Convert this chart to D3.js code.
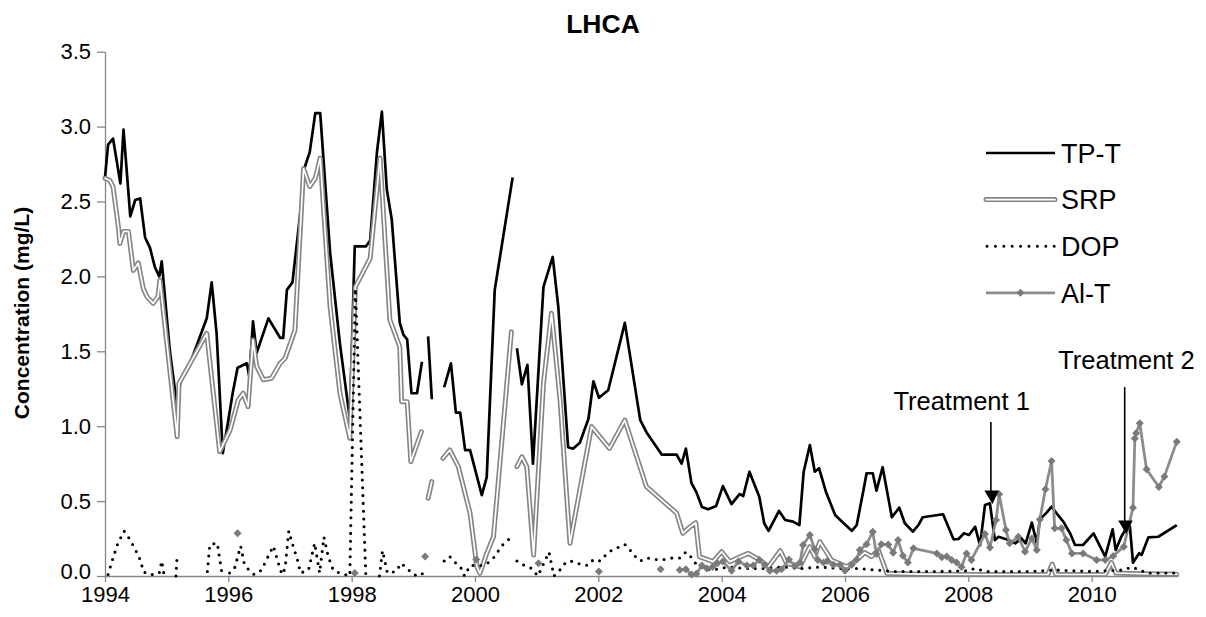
<!DOCTYPE html>
<html>
<head>
<meta charset="utf-8">
<script src="https://cdn.jsdelivr.net/npm/d3@7"></script>
<style>
  body { margin: 0; background: #fff; }
  svg { display: block; }
  text { font-family: "Liberation Sans", Arial, sans-serif; fill: #000; }
</style>
</head>
<body>
<svg id="chart" width="1206" height="617"></svg>
<script>
// ---- data: [decimal year, mg/L]; null breaks the line ----
const tpT = [
  [1994.00,2.66],[1994.05,2.88],[1994.13,2.92],[1994.25,2.62],[1994.30,2.98],[1994.41,2.40],
  [1994.49,2.51],[1994.57,2.52],[1994.65,2.26],[1994.73,2.19],[1994.81,2.06],[1994.88,2.00],
  [1994.92,2.10],[1995.05,1.51],[1995.17,1.13],[1995.22,1.29],[1995.38,1.42],[1995.65,1.72],
  [1995.73,1.96],[1995.81,1.62],[1995.91,0.82],[1996.00,1.04],[1996.07,1.22],[1996.15,1.39],
  [1996.30,1.42],[1996.34,1.33],[1996.40,1.70],[1996.46,1.49],[1996.65,1.72],[1996.84,1.59],
  [1996.89,1.59],[1996.95,1.91],[1997.04,1.96],[1997.19,2.51],[1997.24,2.73],[1997.32,2.83],
  [1997.41,3.09],[1997.49,3.09],[1997.65,2.16],[1997.81,1.55],[1997.97,1.05],[1998.05,2.20],
  [1998.23,2.20],[1998.30,2.24],[1998.41,2.83],[1998.49,3.10],[1998.57,2.58],[1998.65,2.38],
  [1998.78,1.69],[1998.84,1.61],[1998.90,1.58],[1998.97,1.22],[1999.06,1.22],[1999.14,1.43],
  [1999.19,null],[1999.24,1.60],[1999.30,1.18],[1999.40,null],
  [1999.50,1.26],[1999.61,1.42],[1999.69,1.09],[1999.76,1.09],[1999.84,0.84],[1999.92,0.84],
  [2000.11,0.54],[2000.19,0.66],[2000.32,1.91],[2000.61,2.66],[2000.65,null],
  [2000.68,1.52],[2000.76,1.28],[2000.85,1.41],[2000.94,0.75],[2001.11,1.93],[2001.26,2.13],
  [2001.35,1.80],[2001.51,0.86],[2001.59,0.85],[2001.70,0.89],[2001.84,1.05],[2001.92,1.30],
  [2002.01,1.19],[2002.16,1.24],[2002.43,1.69],[2002.68,1.04],[2002.78,0.96],[2003.03,0.81],
  [2003.27,0.81],[2003.35,0.75],[2003.42,0.85],[2003.51,0.62],[2003.59,0.56],[2003.68,0.46],
  [2003.78,0.445],[2003.91,0.467],[2004.02,0.60],[2004.16,0.48],[2004.29,0.547],[2004.35,0.534],
  [2004.45,0.696],[2004.61,0.529],[2004.69,0.352],[2004.76,0.302],[2004.93,0.434],[2005.03,0.374],
  [2005.16,0.363],[2005.26,0.34],[2005.33,0.696],[2005.43,0.874],[2005.51,0.696],[2005.58,0.719],
  [2005.69,0.563],[2005.84,0.407],[2005.97,0.356],[2006.11,0.302],[2006.19,0.34],[2006.30,0.574],
  [2006.35,0.686],[2006.45,0.686],[2006.51,0.57],[2006.61,0.726],[2006.76,0.392],[2006.88,0.456],
  [2006.97,0.352],[2007.10,0.296],[2007.19,0.34],[2007.26,0.392],[2007.59,0.412],[2007.76,0.245],
  [2007.84,0.247],[2007.93,0.285],[2008.01,0.274],[2008.11,0.329],[2008.19,0.205],[2008.27,0.474],
  [2008.35,0.485],[2008.43,0.24],[2008.49,0.262],[2008.65,0.24],[2008.76,0.218],[2008.86,0.251],
  [2008.93,0.218],[2009.03,0.356],[2009.11,0.218],[2009.16,0.378],[2009.27,0.423],[2009.35,0.463],
  [2009.43,0.419],[2009.54,0.363],[2009.65,0.285],[2009.73,0.207],[2009.86,0.207],[2010.03,0.285],
  [2010.22,0.129],[2010.34,0.312],[2010.39,0.174],[2010.48,0.262],[2010.56,0.318],[2010.62,0.329],
  [2010.67,0.089],[2010.77,0.152],[2010.81,0.14],[2010.92,0.258],[2011.08,0.262],[2011.38,0.34]
];

const srp = [
  [1994.00,2.655],[1994.08,2.64],[1994.13,2.60],[1994.22,2.32],[1994.24,2.22],[1994.30,2.30],
  [1994.38,2.30],[1994.46,2.04],[1994.54,2.09],[1994.62,1.92],[1994.68,1.865],[1994.78,1.82],
  [1994.86,1.865],[1994.89,1.976],[1995.17,0.93],[1995.20,1.286],[1995.65,1.62],[1995.86,0.83],
  [1996.03,0.975],[1996.16,1.175],[1996.24,1.22],[1996.32,1.13],[1996.40,1.575],[1996.46,1.40],
  [1996.57,1.31],[1996.70,1.32],[1996.84,1.42],[1996.92,1.453],[1997.08,1.64],[1997.22,2.72],
  [1997.32,2.60],[1997.41,2.655],[1997.49,2.79],[1997.65,1.80],[1997.81,1.22],[1997.97,0.92],
  [1998.06,1.93],[1998.30,2.12],[1998.46,2.79],[1998.62,1.71],[1998.78,1.53],[1998.81,1.164],
  [1998.90,1.164],[1998.96,0.763],[1999.13,0.963],[1999.19,null],[1999.24,0.52],[1999.30,0.63],
  [1999.40,null],[1999.48,0.786],[1999.59,0.841],[1999.73,0.73],[1999.92,0.419],[2000.03,0.062],
  [2000.08,0.018],[2000.19,0.151],[2000.30,0.262],[2000.59,1.63],[2000.65,null],[2000.68,0.73],
  [2000.76,0.796],[2000.84,0.73],[2000.95,0.14],[2001.11,1.286],[2001.24,1.754],[2001.38,1.175],
  [2001.54,0.218],[2001.89,0.997],[2002.18,0.852],[2002.43,1.04],[2002.78,0.596],[2003.27,0.419],
  [2003.37,0.285],[2003.49,0.329],[2003.58,0.356],[2003.64,0.129],[2003.86,0.096],[2004.00,0.162],
  [2004.13,0.096],[2004.43,0.151],[2004.62,0.107],[2004.76,0.062],[2004.95,0.169],[2005.05,0.085],
  [2005.27,0.062],[2005.43,0.196],[2005.51,0.129],[2005.59,0.229],[2005.78,0.107],[2006.03,0.062],
  [2006.19,0.107],[2006.32,0.156],[2006.43,0.13],[2006.54,0.174],[2006.68,0.018],[2007.22,0.012],
  [2008.19,0.01],[2009.29,0.01],[2009.36,0.08],[2009.42,0.01],[2010.22,0.01],[2010.32,0.09],
  [2010.39,0.02],[2010.78,0.015],[2011.38,0.012]
];

const dop = [
  [1994.05,0.01],[1994.13,0.12],[1994.21,0.22],[1994.31,0.30],[1994.41,0.24],[1994.50,0.17],
  [1994.58,0.10],[1994.62,0.03],[1994.70,0.01],[1994.78,0.01],[1994.88,0.02],[1994.92,0.10],
  [1994.96,0.0],[1995.05,null],[1995.15,0.0],[1995.17,0.14],[1995.30,null],
  [1995.66,0.03],[1995.70,0.21],[1995.82,0.22],[1995.90,0.01],[1995.95,null],
  [1996.02,0.02],[1996.10,0.05],[1996.20,0.20],[1996.26,0.08],[1996.35,0.03],[1996.42,0.01],
  [1996.54,0.04],[1996.62,0.11],[1996.73,0.20],[1996.80,0.10],[1996.87,0.01],[1996.92,0.05],
  [1996.98,0.30],[1997.05,0.20],[1997.12,0.11],[1997.17,0.02],[1997.30,0.04],[1997.40,0.22],
  [1997.48,0.02],[1997.55,0.26],[1997.62,0.13],[1997.70,0.04],[1997.80,0.02],[1997.97,0.0],
  [1998.06,1.92],[1998.23,0.0],[1998.35,null],[1998.45,0.0],[1998.50,0.17],[1998.58,0.02],
  [1998.72,0.03],[1998.80,0.085],[1998.90,0.05],[1999.00,0.01],[1999.10,0.0],[1999.24,0.045],
  [1999.40,null],[1999.50,0.10],[1999.59,0.13],[1999.68,0.09],[1999.78,0.05],[1999.83,0.0],
  [1999.92,0.07],[2000.10,0.07],[2000.22,0.09],[2000.32,0.13],[2000.43,0.20],[2000.59,0.26],
  [2000.65,null],[2000.68,0.10],[2000.80,0.07],[2000.92,0.05],[2001.02,0.0],[2001.20,0.16],
  [2001.28,0.0],[2001.40,0.05],[2001.47,0.09],[2001.55,0.10],[2001.70,0.08],[2001.83,0.07],
  [2001.92,0.11],[2002.03,0.10],[2002.12,0.14],[2002.21,0.17],[2002.32,0.19],[2002.43,0.21],
  [2002.52,0.17],[2002.60,0.13],[2002.68,0.10],[2002.79,0.12],[2002.93,0.11],[2003.06,0.11],
  [2003.20,0.12],[2003.32,0.12],[2003.42,0.16],[2003.52,0.12],[2003.60,0.07],[2003.70,0.05],
  [2003.85,0.04],[2004.10,0.06],[2004.40,0.05],[2004.70,0.05],[2005.00,0.06],[2005.30,0.05],
  [2005.60,0.06],[2005.90,0.05],[2006.20,0.05],[2006.50,0.04],[2006.80,0.03],[2007.50,0.03],
  [2008.00,0.035],[2008.10,0.05],[2008.30,0.03],[2009.00,0.03],[2009.40,0.04],[2010.00,0.03],
  [2010.50,0.04],[2010.65,0.06],[2010.78,0.04],[2010.90,0.02],[2011.38,0.02]
];

const alT = [
  [1996.15,0.285],[1996.20,null],[1998.05,0.02],[1998.10,null],[1999.19,0.13],[1999.25,null],
  [2000.02,0.11],[2000.10,null],[2001.03,0.085],[2001.10,null],[2002.01,0.03],[2002.10,null],
  [2003.01,0.045],[2003.10,null],
  [2003.32,0.04],[2003.42,0.045],[2003.51,0.01],[2003.59,0.015],[2003.68,0.07],[2003.76,0.05],
  [2003.85,0.06],[2003.93,0.085],[2004.02,0.096],[2004.16,0.035],[2004.27,0.096],[2004.41,0.07],
  [2004.51,0.07],[2004.61,0.107],[2004.70,0.073],[2004.78,0.035],[2004.89,0.035],[2004.97,0.045],
  [2005.09,0.11],[2005.19,0.067],[2005.27,0.09],[2005.32,0.207],[2005.43,0.274],[2005.51,0.178],
  [2005.56,0.107],[2005.65,0.09],[2005.71,0.10],[2005.81,0.075],[2005.92,0.073],[2006.00,0.035],
  [2006.11,0.075],[2006.19,0.11],[2006.24,0.174],[2006.35,0.212],[2006.45,0.296],[2006.51,0.147],
  [2006.59,0.212],[2006.70,0.21],[2006.78,0.156],[2006.86,0.24],[2006.94,0.135],[2007.02,0.09],
  [2007.11,0.185],[2007.49,0.151],[2007.57,0.125],[2007.65,0.13],[2007.73,0.107],[2007.81,0.09],
  [2007.89,0.06],[2007.97,0.151],[2008.05,0.107],[2008.27,0.28],[2008.35,0.19],[2008.45,0.374],
  [2008.50,0.545],[2008.61,0.307],[2008.67,0.218],[2008.81,0.262],[2008.92,0.162],[2009.03,0.251],
  [2009.11,0.174],[2009.16,0.378],[2009.25,0.579],[2009.35,0.768],[2009.40,0.318],[2009.51,0.318],
  [2009.59,0.24],[2009.68,0.151],[2009.86,0.151],[2010.08,0.107],[2010.22,0.107],[2010.35,0.133],
  [2010.52,0.196],[2010.67,0.456],[2010.70,0.918],[2010.72,0.953],[2010.78,1.02],[2010.89,0.712],
  [2011.09,0.594],[2011.18,0.665],[2011.38,0.897]
];

const yTicks = [0, 0.5, 1.0, 1.5, 2.0, 2.5, 3.0, 3.5];
const xTicks = [1994, 1996, 1998, 2000, 2002, 2004, 2006, 2008, 2010];
const seriesNames = ["TP-T", "SRP", "DOP", "Al-T"];
const treatmentNames = ["Treatment 1", "Treatment 2"];
const treatmentYears = [2008.39, 2010.56];
const treatmentLevels = [0.48, 0.28];

// ---- layout ----
const svg = d3.select("#chart");
const x = d3.scaleLinear().domain([1994, 2011.4]).range([105, 1178]);
const y = d3.scaleLinear().domain([0, 3.5]).range([576, 51.7]);
const axisColor = "#868686";

// title
svg.append("text")
  .attr("x", 603).attr("y", 33)
  .attr("text-anchor", "middle")
  .style("font-size", "26.5px").style("font-weight", "bold")
  .text("LHCA");

// y axis title
svg.append("text")
  .attr("transform", "translate(29,313) rotate(-90)")
  .attr("text-anchor", "middle")
  .style("font-size", "21px").style("font-weight", "bold")
  .text("Concentration (mg/L)");

// axes
const yAxisG = svg.append("g")
  .attr("transform", `translate(${x(1994)},0)`)
  .call(d3.axisLeft(y).tickValues(yTicks).tickFormat(d3.format(".1f"))
    .tickSize(8).tickSizeOuter(0).tickPadding(6));
const xAxisG = svg.append("g")
  .attr("transform", `translate(0,${y(0)})`)
  .call(d3.axisBottom(x).tickValues(xTicks).tickFormat(d3.format("d"))
    .tickSize(6).tickSizeOuter(0).tickPadding(4));
[yAxisG, xAxisG].forEach(g => {
  g.select(".domain").attr("stroke", axisColor).attr("stroke-width", 1.3);
  g.selectAll(".tick line").attr("stroke", axisColor).attr("stroke-width", 1.3);
  g.selectAll(".tick text").style("font-size", "22px")
    .style("font-family", "'Liberation Sans', Arial, sans-serif").attr("fill", "#000");
});
// lowest y label sits a touch higher so it clears the first year label
yAxisG.selectAll(".tick text").filter(d => d === 0).attr("dy", "0.12em");

// series
const line = d3.line()
  .defined(d => d[1] != null)
  .x(d => x(d[0]))
  .y(d => y(d[1]));

const plot = svg.append("g");

plot.append("path").datum(tpT)
  .attr("d", line).attr("fill", "none")
  .attr("stroke", "#000").attr("stroke-width", 2.7)
  .attr("stroke-linejoin", "round");

plot.append("path").datum(srp)
  .attr("d", line).attr("fill", "none")
  .attr("stroke", "#858585").attr("stroke-width", 5)
  .attr("stroke-linejoin", "round").attr("stroke-linecap", "round");
plot.append("path").datum(srp)
  .attr("d", line).attr("fill", "none")
  .attr("stroke", "#fff").attr("stroke-width", 1.7)
  .attr("stroke-linejoin", "round").attr("stroke-linecap", "round");

plot.append("path").datum(dop)
  .attr("d", line).attr("fill", "none")
  .attr("stroke", "#000").attr("stroke-width", 3.1)
  .attr("stroke-linecap", "round").attr("stroke-dasharray", "0 7.8");

plot.append("path").datum(alT)
  .attr("d", line).attr("fill", "none")
  .attr("stroke", "#8c8c8c").attr("stroke-width", 2.8)
  .attr("stroke-linejoin", "round");

const diamond = r => `M0,${-r}L${r},0L0,${r}L${-r},0Z`;
plot.selectAll("path.al-marker")
  .data(alT.filter(d => d[1] != null))
  .join("path")
  .attr("class", "al-marker")
  .attr("transform", d => `translate(${x(d[0])},${y(d[1])})`)
  .attr("d", diamond(4))
  .attr("fill", "#7a7a7a");

// legend
const legend = svg.append("g").attr("transform", "translate(986,153)");
const rowGap = 46.6, swatchLen = 69;
seriesNames.forEach((name, i) => {
  const row = legend.append("g").attr("transform", `translate(0,${i * rowGap})`);
  if (name === "TP-T") {
    row.append("line").attr("x1", 0).attr("x2", swatchLen)
      .attr("stroke", "#000").attr("stroke-width", 2.7);
  } else if (name === "SRP") {
    row.append("line").attr("x1", 0).attr("x2", swatchLen)
      .attr("stroke", "#858585").attr("stroke-width", 5).attr("stroke-linecap", "round");
    row.append("line").attr("x1", 0).attr("x2", swatchLen)
      .attr("stroke", "#fff").attr("stroke-width", 1.7).attr("stroke-linecap", "round");
  } else if (name === "DOP") {
    row.append("line").attr("x1", 1).attr("x2", swatchLen)
      .attr("stroke", "#000").attr("stroke-width", 3)
      .attr("stroke-linecap", "round").attr("stroke-dasharray", "0 8.4");
  } else {
    row.append("line").attr("x1", 0).attr("x2", swatchLen)
      .attr("stroke", "#8c8c8c").attr("stroke-width", 2.8);
    row.append("path").attr("transform", `translate(${swatchLen / 2},0)`)
      .attr("d", diamond(4)).attr("fill", "#7a7a7a");
  }
  row.append("text")
    .attr("x", swatchLen + 6).attr("y", 0).attr("dy", "0.36em")
    .style("font-size", "27px")
    .text(name);
});

// treatment annotations
const arrowLen = [82, 147];
const labelShift = [[-99, -103], [-68, -174]];
treatmentNames.forEach((name, i) => {
  const tx = x(treatmentYears[i]), ty = y(treatmentLevels[i]);
  const g = svg.append("g");
  g.append("line")
    .attr("x1", tx - 1.5).attr("x2", tx - 1.5)
    .attr("y1", ty - arrowLen[i]).attr("y2", ty - 12)
    .attr("stroke", "#000").attr("stroke-width", 1.6);
  g.append("path")
    .attr("d", `M${tx - 8},${ty - 13.5}L${tx + 6.5},${ty - 13.5}L${tx},${ty}Z`)
    .attr("fill", "#000");
  g.append("text")
    .attr("x", tx + labelShift[i][0]).attr("y", ty + labelShift[i][1])
    .attr("dy", "0.36em")
    .style("font-size", "25.5px")
    .text(name);
});
</script>
</body>
</html>
